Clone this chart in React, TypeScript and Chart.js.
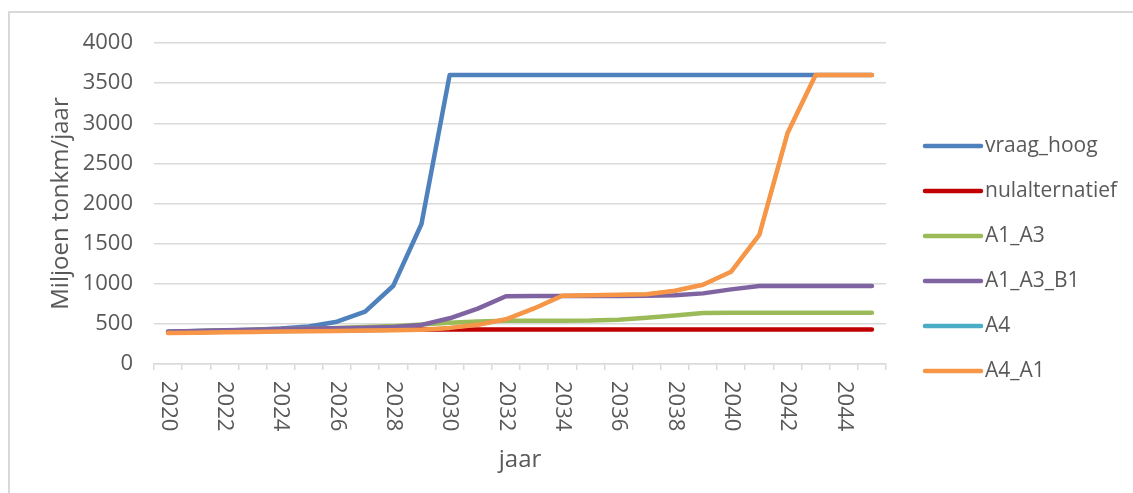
import { useEffect, useRef } from "react";
import { Chart, registerables } from "chart.js";

Chart.register(...registerables);

// Years on the category axis
const years = [
  "2020", "2021", "2022", "2023", "2024", "2025", "2026", "2027", "2028", "2029",
  "2030", "2031", "2032", "2033", "2034", "2035", "2036", "2037", "2038", "2039",
  "2040", "2041", "2042", "2043", "2044", "2045",
];

// Transport volume per scenario (miljoen tonkm/jaar)
const vraagHoog = [
  400, 410, 418, 428, 442, 468, 527, 652, 975, 1745,
  3600, 3600, 3600, 3600, 3600, 3600, 3600, 3600, 3600, 3600,
  3600, 3600, 3600, 3600, 3600, 3600,
];
const nulalternatief = [
  395, 400, 405, 410, 414, 418, 421, 424, 427, 429,
  430, 430, 430, 430, 430, 430, 430, 430, 430, 430,
  430, 430, 430, 430, 430, 430,
];
const a1A3 = [
  400, 408, 416, 424, 432, 440, 450, 460, 472, 492,
  515, 530, 540, 540, 540, 541, 552, 576, 605, 636,
  638, 638, 638, 638, 638, 638,
];
const a1A3B1 = [
  405, 412, 420, 428, 435, 441, 447, 453, 462, 487,
  570, 690, 845, 847, 847, 847, 848, 850, 856, 880,
  930, 972, 972, 972, 972, 972,
];
const a4 = [
  385, 390, 395, 400, 404, 408, 412, 416, 420, 428,
  450, 488, 557, 692, 850, 858, 864, 868, 912, 988,
  1150, 1610, 2875, 3600, 3600, 3600,
];
const a4A1 = [
  385, 390, 395, 400, 404, 408, 412, 416, 420, 428,
  450, 488, 557, 692, 850, 858, 864, 868, 912, 988,
  1150, 1610, 2875, 3600, 3600, 3600,
];

const seriesNames = ["vraag_hoog", "nulalternatief", "A1_A3", "A1_A3_B1", "A4", "A4_A1"];
const seriesValues = [vraagHoog, nulalternatief, a1A3, a1A3B1, a4, a4A1];
const seriesColors = ["#4f81bd", "#c00000", "#9bbb59", "#8064a2", "#4bacc6", "#f79646"];

const yMin = 0;
const yMax = 4000;
const yStep = 500;

const FONT = "'Open Sans', sans-serif";
const TEXT = "#595959";
const GRID = "#d9d9d9";
const LINE_WIDTH = 4.5;

const W = 1133;
const H = 493;

// Outer frame, vertical year labels and the legend on the right
const decorations = {
  id: "decorations",
  beforeDraw(chart: any) {
    const ctx = chart.ctx;
    ctx.save();
    ctx.fillStyle = "#ffffff";
    ctx.fillRect(0, 0, chart.width, chart.height);
    ctx.strokeStyle = GRID;
    ctx.lineWidth = 2;
    ctx.strokeRect(9, 12, 1300, 700);
    ctx.restore();
  },
  afterDraw(chart: any) {
    const ctx = chart.ctx;
    const xs = chart.scales.x;
    ctx.save();
    // year labels, every second year, reading top to bottom
    ctx.fillStyle = TEXT;
    ctx.font = `22px ${FONT}`;
    ctx.textAlign = "left";
    ctx.textBaseline = "middle";
    years.forEach((label, i) => {
      if (i % 2 !== 0) return;
      const x = xs.getPixelForValue(i);
      ctx.save();
      ctx.translate(x, xs.top + 17);
      ctx.rotate(Math.PI / 2);
      ctx.fillText(label, 0, 0);
      ctx.restore();
    });

    // legend
    const lx = 925;
    const lw = 56;
    chart.data.datasets.forEach((ds: any, i: number) => {
      const y = 146 + i * 45;
      ctx.strokeStyle = ds.borderColor;
      ctx.lineWidth = LINE_WIDTH;
      ctx.lineCap = "round";
      ctx.beginPath();
      ctx.moveTo(lx, y);
      ctx.lineTo(lx + lw, y);
      ctx.stroke();
      ctx.fillStyle = TEXT;
      ctx.font = `21px ${FONT}`;
      ctx.textAlign = "left";
      ctx.textBaseline = "middle";
      ctx.fillText(ds.label, lx + lw + 4, y);
    });
    ctx.restore();
  },
};

export default function App() {
  const canvasRef = useRef<HTMLCanvasElement | null>(null);

  useEffect(() => {
    const canvas = canvasRef.current;
    if (!canvas) return;
    const n = seriesNames.length;
    const chart = new Chart(canvas, {
      type: "line",
      data: {
        labels: years,
        datasets: seriesNames.map((name, i) => ({
          label: name,
          data: seriesValues[i],
          borderColor: seriesColors[i],
          backgroundColor: seriesColors[i],
          // A4 runs underneath A4_A1; keep it a touch thinner so no fringe shows
          borderWidth: name === "A4" ? 3.5 : LINE_WIDTH,
          borderCapStyle: "round" as const,
          borderJoinStyle: "round" as const,
          pointRadius: 0,
          pointHoverRadius: 0,
          tension: 0,
          fill: false,
          order: n - 1 - i,
        })),
      },
      options: {
        responsive: false,
        animation: false,
        events: [],
        layout: { padding: { top: 43, right: W - 886, bottom: 0, left: 10 } },
        plugins: {
          legend: { display: false },
          tooltip: { enabled: false },
          title: { display: false },
        },
        scales: {
          x: {
            type: "category",
            offset: true,
            grid: {
              display: true,
              offset: true,
              drawOnChartArea: false,
              drawTicks: true,
              tickLength: 6,
              color: GRID,
              lineWidth: 1.5,
            },
            border: { display: true, color: GRID, width: 1.5 },
            ticks: { display: false },
            title: {
              display: true,
              text: "jaar",
              color: TEXT,
              font: { family: FONT, size: 24 },
              padding: { top: 75.6, bottom: 18.6 },
            },
          },
          y: {
            min: yMin,
            max: yMax,
            grid: {
              color: GRID,
              lineWidth: 1.5,
              drawTicks: false,
            },
            border: { display: false },
            ticks: {
              stepSize: yStep,
              color: TEXT,
              font: { family: FONT, size: 22 },
              padding: 21,
              callback: (value: any) => String(value),
            },
            title: {
              display: true,
              text: "Miljoen tonkm/jaar",
              color: TEXT,
              font: { family: FONT, size: 24 },
              padding: { top: 37, bottom: 0 },
            },
            afterFit(scale: any) {
              scale.width = 144;
            },
          },
        },
      },
      plugins: [decorations],
    });
    return () => chart.destroy();
  }, []);

  return (
    <div style={{ position: "fixed", left: 0, top: 0, width: W, height: H, background: "#fff" }}>
      <canvas ref={canvasRef} width={W} height={H} style={{ display: "block" }} />
    </div>
  );
}
